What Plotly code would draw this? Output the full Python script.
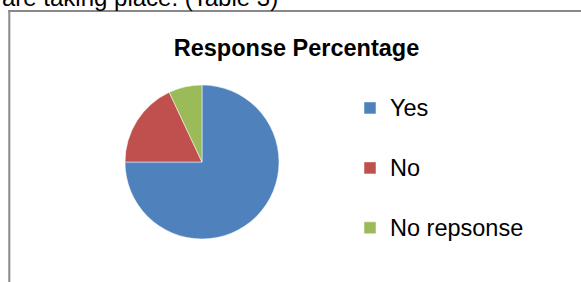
import plotly.graph_objects as go

# Data
labels = ["Yes", "No", "No repsonse"]
values = [75, 18, 7]
colors = ["#4F81BD", "#C0504D", "#9BBB59"]
chart_title = "Response Percentage"
caption = "are taking place. (Table 3)"

W, H = 581, 282
FONT = "Arial, Liberation Sans, sans-serif"

# pie geometry (pixels)
cx, cy, r = 202, 162, 77

# legend: line height driven by legend font size, text drawn at its own size
LEG_TEXT = 23.5
legend_labels = ["<span style='font-size:%.1fpx'>%s</span><br> " % (LEG_TEXT, l)
                 for l in labels]

fig = go.Figure(go.Pie(
    labels=legend_labels,
    values=values,
    sort=False,
    direction="clockwise",
    rotation=0,
    textinfo="none",
    hovertemplate="%{value}<extra></extra>",
    marker=dict(colors=colors, line=dict(color="white", width=0.5)),
    domain=dict(x=[(cx - r) / W, (cx + r) / W],
                y=[(H - cy - r) / H, (H - cy + r) / H]),
))

fig.update_layout(
    width=W, height=H,
    margin=dict(l=0, r=0, t=0, b=0),
    paper_bgcolor="white",
    plot_bgcolor="white",
    font=dict(family=FONT, color="#000000"),
    title=dict(text="<b>" + chart_title + "</b>", x=296.5 / W, y=1 - 47.8 / H,
               xanchor="center", yanchor="middle",
               font=dict(family=FONT, size=23.5, color="#000000")),
    showlegend=True,
    legend=dict(x=350 / W, y=1 - 87.2 / H, xanchor="left", yanchor="top",
                font=dict(family=FONT, size=21.9, color="#000000"),
                valign="top", bgcolor="rgba(0,0,0,0)", borderwidth=0),
    shapes=[
        dict(type="line", xref="paper", yref="paper",
             x0=8.3 / W, x1=1, y0=1 - 11 / H, y1=1 - 11 / H,
             line=dict(color="#888888", width=2)),
        dict(type="line", xref="paper", yref="paper",
             x0=9.3 / W, x1=9.3 / W, y0=0, y1=1 - 10 / H,
             line=dict(color="#888888", width=2)),
    ],
    annotations=[
        dict(text=caption, xref="paper", yref="paper", x=0, y=1 + 2.5 / H,
             xanchor="left", yanchor="middle", showarrow=False,
             font=dict(family=FONT, size=24, color="#000000")),
    ],
)

fig.write_html("out.html",
               config={"displayModeBar": False},
               post_script="document.body.style.margin='0px';document.body.style.overflow='hidden';")
